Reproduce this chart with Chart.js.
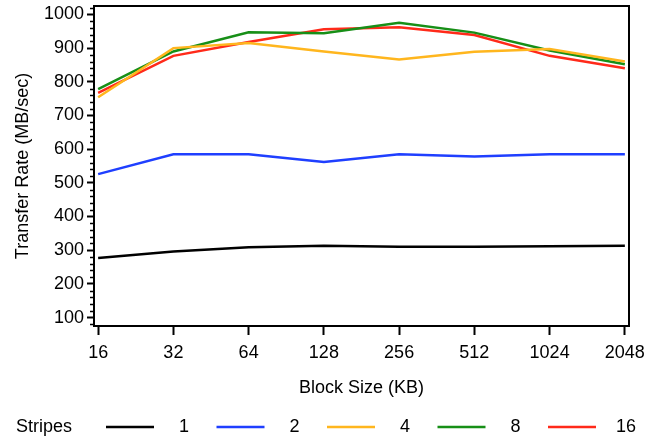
<!DOCTYPE html>
<html>
<head>
<meta charset="utf-8">
<script src="https://cdn.jsdelivr.net/npm/chart.js@4/dist/chart.umd.min.js"></script>
<style>
  html, body { margin: 0; padding: 0; background: #ffffff; }
  #wrap { width: 660px; height: 439px; position: relative; }
</style>
</head>
<body>
<div id="wrap"><canvas id="c" width="660" height="439"></canvas></div>
<script>
// ---- Data ----
const categories = ['16', '32', '64', '128', '256', '512', '1024', '2048'];
const seriesNames = ['1', '2', '4', '8', '16'];
const stripes1  = [277, 296, 309, 313, 310, 310, 312, 313];
const stripes2  = [526, 585, 585, 562, 585, 578, 585, 585];
const stripes4  = [754, 900, 915, 890, 866, 889, 897, 860];
const stripes8  = [778, 890, 947, 944, 975, 946, 893, 852];
const stripes16 = [767, 877, 918, 956, 962, 939, 877, 840];
const yMajorTicks = [100, 200, 300, 400, 500, 600, 700, 800, 900, 1000];
const seriesColors = ['#000000', '#1f3fff', '#ffb61e', '#178f17', '#ff2a1a'];
const allSeries = [stripes1, stripes2, stripes4, stripes8, stripes16];

const FONT = 'Liberation Sans, Arial, sans-serif';
const FS = 18;

const datasets = allSeries.map((vals, i) => ({
  label: seriesNames[i],
  data: vals.map((v, j) => ({ x: j, y: v })),
  borderColor: seriesColors[i],
  backgroundColor: seriesColors[i],
  borderWidth: 2.5,
  pointRadius: 0,
  tension: 0,
  fill: false
}));

// Frame (top/right border) + minor y ticks + custom legend
const decor = {
  id: 'decor',
  afterDraw(chart) {
    const ctx = chart.ctx;
    const a = chart.chartArea;
    const ys = chart.scales.y;
    ctx.save();
    ctx.strokeStyle = '#000';
    ctx.lineWidth = 2;
    ctx.beginPath();
    ctx.moveTo(a.left, a.top);
    ctx.lineTo(a.right, a.top);
    ctx.lineTo(a.right, a.bottom);
    ctx.stroke();
    // minor ticks every 20
    ctx.lineWidth = 1.5;
    ctx.beginPath();
    for (let v = ys.min - (ys.min % 20) + 20; v <= ys.max; v += 20) {
      if (v % 100 === 0) continue;
      const py = Math.round(ys.getPixelForValue(v)) + 0.5;
      ctx.moveTo(a.left - 4, py);
      ctx.lineTo(a.left, py);
    }
    ctx.stroke();
    // legend
    const ly = 427;
    ctx.fillStyle = '#000';
    ctx.font = FS + 'px ' + FONT;
    ctx.textBaseline = 'middle';
    ctx.textAlign = 'left';
    ctx.fillText('Stripes', 16, ly);
    chart.data.datasets.forEach((ds, i) => {
      const x0 = 106 + i * 110.5;
      ctx.strokeStyle = ds.borderColor;
      ctx.lineWidth = 2.5;
      ctx.beginPath();
      ctx.moveTo(x0, ly);
      ctx.lineTo(x0 + 48, ly);
      ctx.stroke();
      ctx.fillStyle = '#000';
      ctx.textAlign = 'center';
      ctx.fillText(ds.label, x0 + 78, ly);
    });
    ctx.restore();
  }
};

new Chart(document.getElementById('c'), {
  type: 'line',
  data: { datasets },
  options: {
    responsive: false,
    animation: false,
    layout: { padding: { top: 6, right: 31, left: 0, bottom: 0 } },
    plugins: { legend: { display: false }, tooltip: { enabled: false } },
    scales: {
      x: {
        type: 'linear',
        min: -0.055,
        max: 7.055,
        afterFit(s) { s.height = 113; s.paddingLeft = 0; s.paddingRight = 0; },
        afterBuildTicks(s) { s.ticks = categories.map((c, i) => ({ value: i })); },
        ticks: {
          callback: (v) => categories[v],
          color: '#000',
          font: { family: FONT, size: FS },
          padding: 7,
          maxRotation: 0,
          autoSkip: false
        },
        grid: { drawOnChartArea: false, drawTicks: true, tickLength: 9, tickColor: '#000', tickWidth: 2 },
        border: { display: true, color: '#000', width: 2 },
        title: {
          display: true,
          text: 'Block Size (KB)',
          color: '#000',
          font: { family: FONT, size: FS },
          padding: { top: 0, bottom: 40 }
        }
      },
      y: {
        type: 'linear',
        min: 75,
        max: 1025,
        afterFit(s) { s.width = 94; s.paddingTop = 0; s.paddingBottom = 0; },
        afterBuildTicks(s) { s.ticks = yMajorTicks.map(v => ({ value: v })); },
        ticks: {
          callback: (v) => String(v),
          color: '#000',
          font: { family: FONT, size: FS },
          padding: 3
        },
        grid: { drawOnChartArea: false, drawTicks: true, tickLength: 7, tickColor: '#000', tickWidth: 2 },
        border: { display: true, color: '#000', width: 2 },
        title: {
          display: true,
          text: 'Transfer Rate (MB/sec)',
          color: '#000',
          font: { family: FONT, size: FS },
          padding: { top: 12, bottom: 0 }
        }
      }
    }
  },
  plugins: [decor]
});
</script>
</body>
</html>
